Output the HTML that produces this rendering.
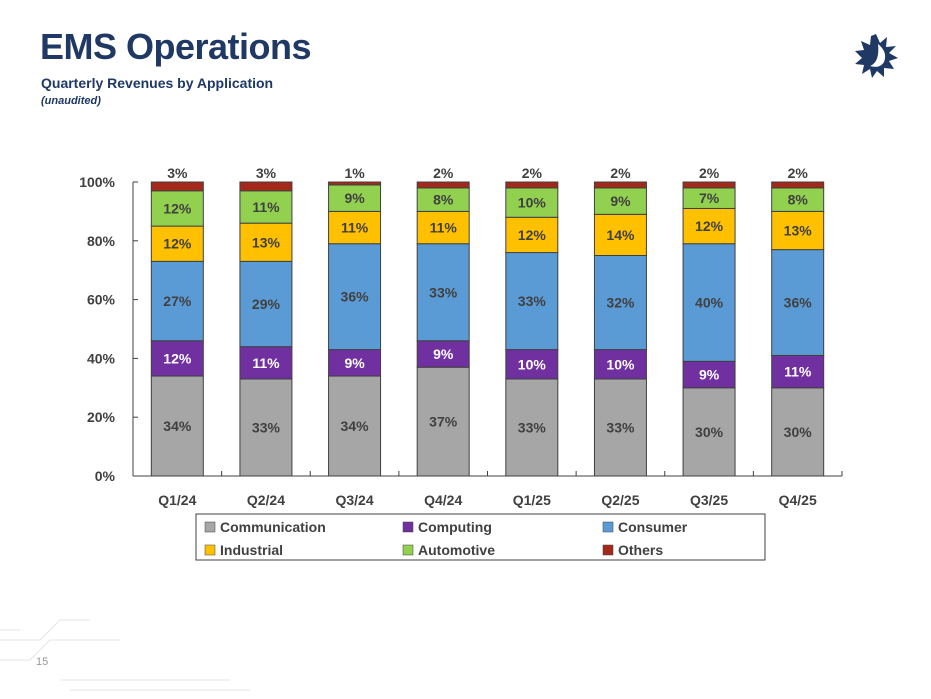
<!DOCTYPE html>
<html><head><meta charset="utf-8"><style>
body{margin:0;width:931px;height:699px;background:#fff;overflow:hidden;font-family:"Liberation Sans",sans-serif;position:relative}
#title{position:absolute;left:40px;top:26px;font-size:36px;font-weight:bold;color:#1f3864;letter-spacing:-0.5px}
#sub{position:absolute;left:41px;top:75px;font-size:14px;font-weight:bold;color:#1f3864}
#un{position:absolute;left:41px;top:95px;font-size:11px;font-style:italic;font-weight:bold;color:#1f3864}
#pg{position:absolute;left:36px;top:656px;font-size:11px;color:#999}
</style></head><body>
<div id="title">EMS Operations</div>
<div id="sub">Quarterly Revenues by Application</div>
<div id="un">(unaudited)</div>
<div id="pg">15</div>
<svg width="931" height="699" style="position:absolute;left:0;top:0" id="svg">
<g transform="translate(876,56)">
<polygon fill="#1f3864" points="0,-22 4,-13 11,-19 10,-9 20,-10 13,-3 22,2 13,5 18,13 8,12 8,21 1,15 -4,22 -6,13 -14,18 -12,9 -21,8 -14,2 -21,-5 -12,-6 -15,-15 -6,-11 -5,-20"/>
<path d="M2,-12 Q12,-4 8,6 Q4,13 -6,10 Q4,6 2,-12Z" fill="#fff"/>
</g>
<g stroke="#e4e4e4" fill="none">
<path d="M0,640 L40,640 L60,620 L90,620 M0,660 L30,660 L50,640 L120,640 M60,680 L230,680 M70,690 L250,690 M0,630 L20,630"/>
</g>
<g id="chart"></g>
</svg>
<script>
const categories=["Q1/24","Q2/24","Q3/24","Q4/24","Q1/25","Q2/25","Q3/25","Q4/25"];
const communication=[34,33,34,37,33,33,30,30];
const computing=[12,11,9,9,10,10,9,11];
const consumer=[27,29,36,33,33,32,40,36];
const industrial=[12,13,11,11,12,14,12,13];
const automotive=[12,11,9,8,10,9,7,8];
const others=[3,3,1,2,2,2,2,2];
const seriesNames=["Communication","Computing","Consumer","Industrial","Automotive","Others"];
const yTicks=[0,20,40,60,80,100];
const colors=["#a6a6a6","#7030a0","#5b9bd5","#ffc000","#92d050","#a5291a"];
const series=[communication,computing,consumer,industrial,automotive,others];
const NS="http://www.w3.org/2000/svg";
const g=document.getElementById('chart');
const x0=133,x1=842,y0=476,yTop=182;
const y=v=>y0-(v/100)*(y0-yTop);
const band=(x1-x0)/categories.length;
const xc=i=>x0+band*(i+0.5);
const bw=52;
function mk(t,a){const e=document.createElementNS(NS,t);for(const k in a)e.setAttribute(k,a[k]);g.appendChild(e);return e;}
function txt(x,yy,s,a){const e=mk('text',Object.assign({x:x,y:yy,'font-family':'Liberation Sans, sans-serif','font-weight':'bold','font-size':14,'text-anchor':'middle',fill:'#404040'},a||{}));e.textContent=s;return e;}
let ax=mk('line',{x1:x0,y1:y0,x2:x0,y2:y(100),stroke:'#404040'});


let xa=mk('line',{x1:x0,y1:y0,x2:x1,y2:y0,stroke:'#404040'});


yTicks.forEach(t=>{
 mk('line',{x1:x0,x2:x0+5,y1:y(t),y2:y(t),stroke:'#404040'});
 const l=txt(x0-18,y(t)+5,t+'%',{'text-anchor':'end'});
 
 
});
for(let i=0;i<=categories.length;i++)mk('line',{x1:x0+band*i,x2:x0+band*i,y1:y0,y2:y0-5,stroke:'#404040'});
categories.forEach((c,i)=>{
 let cum=0;
 series.forEach((s,k)=>{
  const v=s[i];
  const r=mk('rect',{x:xc(i)-bw/2,y:y(cum+v),width:bw,height:y(cum)-y(cum+v),fill:colors[k],stroke:'#404040','stroke-width':1});
  
  
  let l;
  if(k===5) l=txt(xc(i),y(cum+v)-4,v+'%');
  else l=txt(xc(i),(y(cum)+y(cum+v))/2+5,v+'%',{fill:k===1?'#fff':'#404040'});
  
  
  cum+=v;
 });
 const cl=txt(xc(i),y0+29,c);
 
 
});
const lb=mk('rect',{x:196,y:514,width:569,height:46,fill:'none',stroke:'#404040'});


const lx=[205,403,603];
seriesNames.forEach((n,k)=>{
 const cx=lx[k%3],cy=k<3?527:550;
 const sw=mk('rect',{x:cx,y:cy-5,width:10,height:10,fill:colors[k],stroke:'#404040','stroke-width':0.5});
 
 
 const t=txt(cx+15,cy+5,n,{'text-anchor':'start'});
 
 
});
</script>
</body></html>
